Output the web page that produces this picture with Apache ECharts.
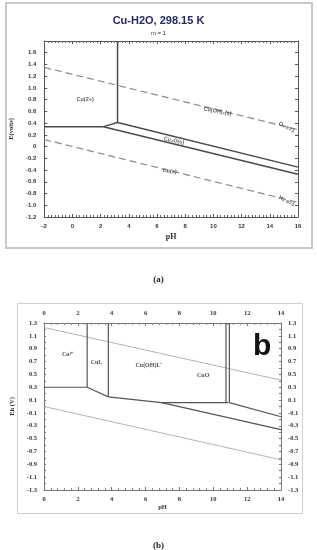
<!DOCTYPE html>
<html><head><meta charset="utf-8">
<script src="https://cdn.jsdelivr.net/npm/echarts@6/dist/echarts.min.js"></script>
<style>html,body{margin:0;padding:0;background:#fff}#c{width:317px;height:550px}</style>
</head><body><div id="c"></div>
<script>
// ---------- Panel (a): Cu-H2O, 298.15 K ----------
const aTitle = 'Cu-H2O, 298.15 K';
const aSubtitle = 'm = 1';
const aXRange = [-2, 16];
const aYRange = [-1.2, 1.8];
const aCu2Vertical = [[3.2, 0.41], [3.2, 1.8]];
const aCu2Horizontal = [[-2, 0.34], [2.2, 0.34]];
const aShortSegment = [[2.2, 0.34], [3.2, 0.41]];
const aCuOH2_Cu2O = [[3.2, 0.41], [16, -0.35]];
const aCu2O_Cu = [[2.2, 0.34], [16, -0.47]];
const aWaterO2 = [[-2, 1.35], [16, 0.29]];
const aWaterH2 = [[-2, 0.12], [16, -0.95]];
const aLabels = [
  ['Cu(2+)', 0.9, 0.8, 0],
  ['Cu(OH)\u2082(s)', 10.3, 0.6, -10],
  ['Cu\u2082O(s)', 7.2, 0.1, -12],
  ['Cu(s)', 6.9, -0.42, -6],
  ['O\u2082 e=1', 15.2, 0.33, -28],
  ['H\u2082 e=1', 15.2, -0.93, -28]
];
// ---------- Panel (b) ----------
const bXRange = [0, 14];
const bYRange = [-1.3, 1.3];
const bCu2Vertical = [[2.55, 0.3], [2.55, 1.3]];
const bCu2Horizontal = [[0, 0.3], [2.55, 0.3]];
const bCu2_CuL_slope = [[2.55, 0.3], [3.8, 0.15]];
const bCuLVertical = [[3.8, 0.15], [3.8, 1.3]];
const bCuOHL_bottom = [[3.8, 0.15], [6.95, 0.06], [10.9, 0.06]];
const bCuOVertical1 = [[10.75, 0.06], [10.75, 1.3]];
const bCuOVertical2 = [[10.95, 0.06], [10.95, 1.3]];
const bCuO_upper = [[10.95, 0.06], [14, -0.16]];
const bCu_lower = [[6.95, 0.06], [14, -0.36]];
const bWaterO2 = [[0, 1.23], [14, 0.41]];
const bWaterH2 = [[0, 0.0], [14, -0.83]];
const bLabels = [
  ['Cu\u00b2\u207a', 1.4, 0.81],
  ['CuL', 3.1, 0.68],
  ['Cu(OH)L\u207b', 6.2, 0.64],
  ['CuO', 9.4, 0.48]
];

const chart = echarts.init(document.getElementById('c'), null, {renderer: 'canvas'});
const sans = 'Liberation Sans, Arial, sans-serif';
const serif = 'Liberation Serif, Times New Roman, serif';

function ln(data, xi, yi, color, width, type) {
  return {type: 'line', data: data, xAxisIndex: xi, yAxisIndex: yi, showSymbol: false, symbol: 'none',
    silent: true, animation: false, lineStyle: {color: color, width: width, type: type || 'solid'}, z: 3};
}
function labelSeries(list, xi, yi, font, size, color) {
  return {type: 'scatter', xAxisIndex: xi, yAxisIndex: yi, symbolSize: 0, silent: true, animation: false,
    data: list.map(function (d) { return {name: d[0], value: [d[1], d[2]],
      label: {rotate: d[3] || 0}}; }),
    label: {show: true, position: 'inside', formatter: function (p) { return p.name; },
      fontFamily: font, fontSize: size, fontWeight: 'bold', color: color}, z: 5};
}

const axisLineA = {show: true, onZero: false, lineStyle: {color: '#555', width: 1}};
const axisLineB = {show: true, onZero: false, lineStyle: {color: '#777', width: 1}};

const option = {
  backgroundColor: '#fff',
  animation: false,
  title: [
    {text: aTitle, left: 'center', top: 10, textStyle: {fontFamily: sans, fontSize: 11, fontWeight: 'bold', color: '#262a63'}},
    {text: aSubtitle, left: 'center', top: 25, textStyle: {fontFamily: sans, fontSize: 6, fontWeight: 'normal', color: '#333'}},
    {text: '(a)', left: 'center', top: 270, textStyle: {fontFamily: serif, fontSize: 9, fontWeight: 'bold', color: '#222'}},
    {text: '(b)', left: 'center', top: 536, textStyle: {fontFamily: serif, fontSize: 9, fontWeight: 'bold', color: '#222'}}
  ],
  graphic: [
    {type: 'rect', shape: {x: 6, y: 3, width: 306, height: 245}, style: {fill: 'none', stroke: '#c9c9c9', lineWidth: 2}, z: 0},
    {type: 'rect', shape: {x: 17.5, y: 303.5, width: 285, height: 210}, style: {fill: 'none', stroke: '#cfcfcf', lineWidth: 1}, z: 0},
    {type: 'text', left: 253, top: 332, style: {text: 'b', fontFamily: sans, fontSize: 30, fontWeight: 'bold', fill: '#111'}, z: 10}
  ],
  grid: [
    {left: 43, right: 19, top: 41, bottom: 333, containLabel: false},
    {left: 44, right: 36, top: 323, bottom: 60, containLabel: false}
  ],
  xAxis: [
    {type: 'value', gridIndex: 0, position: 'bottom', min: aXRange[0], max: aXRange[1], interval: 2,
      axisLine: axisLineA, splitLine: {show: false},
      axisTick: {show: true, inside: true, length: 3, lineStyle: {color: '#555'}},
      minorTick: {show: true, splitNumber: 8, length: 2, lineStyle: {color: '#666'}},
      axisLabel: {fontFamily: sans, fontSize: 6, fontWeight: 'bold', color: '#333', margin: 6},
      name: 'pH', nameLocation: 'middle', nameGap: 16,
      nameTextStyle: {fontFamily: serif, fontSize: 8, fontWeight: 'bold', color: '#333'}},
    {type: 'value', gridIndex: 0, position: 'top', min: aXRange[0], max: aXRange[1], interval: 2,
      axisLine: axisLineA, splitLine: {show: false},
      axisTick: {show: true, inside: true, length: 3, lineStyle: {color: '#555'}},
      minorTick: {show: true, splitNumber: 8, length: 2, lineStyle: {color: '#666'}},
      axisLabel: {show: false}},
    {type: 'value', gridIndex: 1, position: 'bottom', min: bXRange[0], max: bXRange[1], interval: 2,
      axisLine: axisLineB, splitLine: {show: false},
      axisTick: {show: true, inside: true, length: 3, lineStyle: {color: '#777'}},
      minorTick: {show: true, splitNumber: 5, length: 2, lineStyle: {color: '#888'}},
      axisLabel: {fontFamily: serif, fontSize: 6.5, fontWeight: 'bold', color: '#333', margin: 6},
      name: 'pH', nameLocation: 'middle', nameGap: 6,
      nameTextStyle: {fontFamily: serif, fontSize: 6.5, fontWeight: 'bold', color: '#333'}},
    {type: 'value', gridIndex: 1, position: 'top', min: bXRange[0], max: bXRange[1], interval: 2,
      axisLine: axisLineB, splitLine: {show: false},
      axisTick: {show: true, inside: true, length: 3, lineStyle: {color: '#777'}},
      minorTick: {show: true, splitNumber: 5, length: 2, lineStyle: {color: '#888'}},
      axisLabel: {fontFamily: serif, fontSize: 6.5, fontWeight: 'bold', color: '#333', margin: 6}}
  ],
  yAxis: [
    {type: 'value', gridIndex: 0, position: 'left', min: aYRange[0], max: aYRange[1], interval: 0.2,
      axisLine: axisLineA, splitLine: {show: false},
      axisTick: {show: true, inside: true, length: 3, lineStyle: {color: '#555'}},
      axisLabel: {fontFamily: sans, fontSize: 6, fontWeight: 'bold', color: '#333', margin: 8,
        formatter: function (v) { if (v > 1.7) return ''; if (Math.abs(v) < 1e-9) return '0'; return v.toFixed(1); }},
      name: 'E(volts)', nameLocation: 'middle', nameGap: 27,
      nameTextStyle: {fontFamily: serif, fontSize: 6.5, fontWeight: 'bold', color: '#333'}},
    {type: 'value', gridIndex: 0, position: 'right', min: aYRange[0], max: aYRange[1], interval: 0.2,
      axisLine: axisLineA, splitLine: {show: false},
      axisTick: {show: true, inside: true, length: 3, lineStyle: {color: '#555'}},
      axisLabel: {show: false}},
    {type: 'value', gridIndex: 1, position: 'left', min: bYRange[0], max: bYRange[1], interval: 0.1,
      axisLine: axisLineB, splitLine: {show: false},
      axisTick: {show: true, inside: true, length: 2, lineStyle: {color: '#777'}},
      axisLabel: {fontFamily: serif, fontSize: 6.5, fontWeight: 'bold', color: '#333', margin: 7,
        formatter: function (v) { const k = Math.round(v * 10); return (Math.abs(k) % 2 === 1) ? (k / 10).toFixed(1) : ''; }},
      name: 'Eh (V)', nameLocation: 'middle', nameGap: 20,
      nameTextStyle: {fontFamily: serif, fontSize: 6.5, fontWeight: 'bold', color: '#333'}},
    {type: 'value', gridIndex: 1, position: 'right', min: bYRange[0], max: bYRange[1], interval: 0.1,
      axisLine: axisLineB, splitLine: {show: false},
      axisTick: {show: true, inside: true, length: 2, lineStyle: {color: '#777'}},
      axisLabel: {fontFamily: serif, fontSize: 6.5, fontWeight: 'bold', color: '#333', margin: 7,
        formatter: function (v) { const k = Math.round(v * 10); return (Math.abs(k) % 2 === 1) ? (k / 10).toFixed(1) : ''; }}}
  ],
  series: [
    ln(aWaterO2, 0, 0, '#8a8a8a', 1.2, [7, 4]),
    ln(aWaterH2, 0, 0, '#8a8a8a', 1.2, [7, 4]),
    ln(aCu2Vertical, 0, 0, '#4a4a4a', 1.5),
    ln(aCu2Horizontal, 0, 0, '#4a4a4a', 1.5),
    ln(aShortSegment, 0, 0, '#4a4a4a', 1.5),
    ln(aCuOH2_Cu2O, 0, 0, '#4a4a4a', 1.5),
    ln(aCu2O_Cu, 0, 0, '#4a4a4a', 1.5),
    labelSeries(aLabels, 0, 0, sans, 5.5, '#333'),
    ln(bWaterO2, 2, 2, '#aaaaaa', 0.9),
    ln(bWaterH2, 2, 2, '#aaaaaa', 0.9),
    ln(bCu2Vertical, 2, 2, '#555', 1.2),
    ln(bCu2Horizontal, 2, 2, '#555', 1.2),
    ln(bCu2_CuL_slope, 2, 2, '#555', 1.2),
    ln(bCuLVertical, 2, 2, '#555', 1.2),
    ln(bCuOHL_bottom, 2, 2, '#555', 1.2),
    ln(bCuOVertical1, 2, 2, '#555', 1.2),
    ln(bCuOVertical2, 2, 2, '#555', 1.2),
    ln(bCuO_upper, 2, 2, '#555', 1.2),
    ln(bCu_lower, 2, 2, '#555', 1.2),
    labelSeries(bLabels, 2, 2, serif, 6, '#222')
  ]
};
chart.setOption(option);
</script>
</body></html>
